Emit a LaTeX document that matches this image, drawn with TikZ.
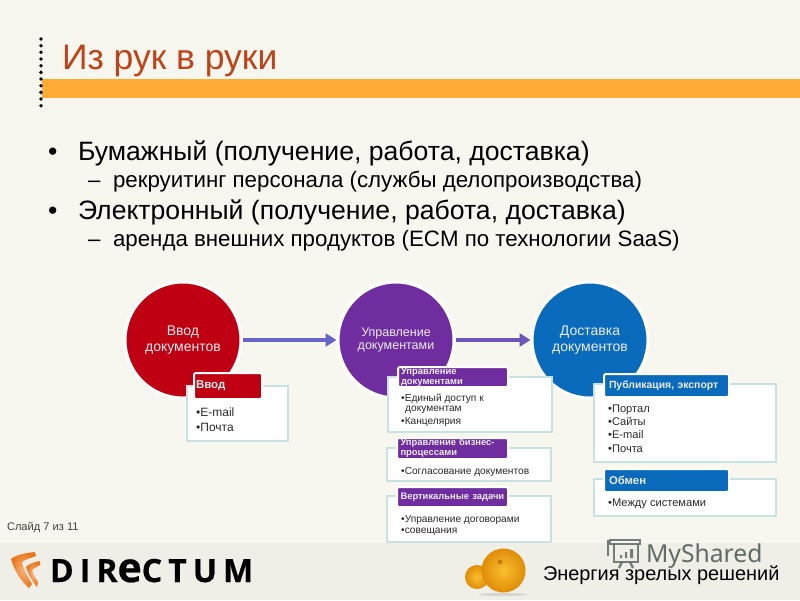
\documentclass[tikz,border=0pt]{standalone}
\usepackage{fontspec}
\setmainfont{Liberation Sans}
\newfontfamily\logofont[LetterSpace=19,BoldFeatures={FakeBold=0.5}]{Open Sans}
\newfontfamily\markfont{Noto Sans}
\usetikzlibrary{arrows.meta}
\definecolor{bgtop}{HTML}{F8F7EF}
\definecolor{bgbot}{HTML}{EFEEE7}
\definecolor{barc}{HTML}{FFAB35}
\definecolor{titlec}{HTML}{BF4318}
\definecolor{redc}{HTML}{BE0012}
\definecolor{purc}{HTML}{6F2DA0}
\definecolor{bluc}{HTML}{0A6BBC}
\definecolor{panelb}{HTML}{C8E2E2}
\definecolor{arrc}{HTML}{6566C8}
\definecolor{arrd}{HTML}{6B55B8}
\definecolor{listc}{HTML}{2A2A2A}
\definecolor{boomi}{HTML}{F9B27A}
\definecolor{boomo}{HTML}{E9781C}
\definecolor{orgi}{HTML}{F9C02E}
\definecolor{orgo}{HTML}{E08C08}
\definecolor{markc}{HTML}{5F6B66}
\tikzset{
  txt/.style={inner sep=0pt,outer sep=0pt,anchor=base west,text=black},
  bigbul/.style={txt,font=\fontsize{26.6}{30}\selectfont},
  subbul/.style={txt,font=\fontsize{22.3}{26}\selectfont},
  circ/.style={circle,draw=white,line width=3pt,minimum size=116pt,inner sep=0pt,
     text=white!92!black,align=center,font=\fontsize{14}{15.5}\selectfont},
  circm/.style={circ,font=\fontsize{12.5}{13.3}\selectfont},
  panel/.style={rectangle,draw=panelb,line width=2pt,fill=white,inner sep=0pt},
  head/.style={rectangle,rounded corners=2pt,draw=white,line width=2pt,inner sep=0pt,
     text=white!92!black,align=left,font=\fontsize{9.4}{10}\selectfont\bfseries},
  lst/.style={inner sep=0pt,anchor=north west,align=left,text=listc,
     font=\fontsize{11.1}{13.3}\selectfont},
  lsts/.style={lst,font=\fontsize{10.15}{10.6}\selectfont},
  flow/.style={line width=4pt,-{Triangle[length=11pt,width=13pt]}},
}
\begin{document}
\begin{tikzpicture}[x=1pt,y=-1pt]
\useasboundingbox (0,0) rectangle (800,600);
\fill[bgtop] (0,0) rectangle (800,543);
\fill[bgbot] (0,543) rectangle (800,600);
% header
\fill[barc] (42,79) rectangle (800,98);
\foreach \i in {0,...,10} \fill[black] (41,{39+\i*6.67}) circle (1.9);
\node[txt,text=titlec,font=\fontsize{35.5}{40}\selectfont] (title) at (62,69.5) {Из рук в руки};
% bullets
\node[bigbul] (b1m) at (48,160) {•};
\node[bigbul] (b1) at (78,160) {Бумажный (получение, работа, доставка)};
\node[subbul] (s1m) at (88,187) {–};
\node[subbul] (s1) at (113,187) {рекруитинг персонала (службы делопроизводства)};
\node[bigbul] (b2m) at (48,219) {•};
\node[bigbul] (b2) at (78,219) {Электронный (получение, работа, доставка)};
\node[subbul] (s2m) at (88,246) {–};
\node[subbul] (s2) at (113,246) {аренда внешних продуктов (ECM по технологии SaaS)};
% circles
\node[circ,fill=redc] (c1) at (183,340) {Ввод\\документов};
\node[circm,fill=purc] (c2) at (396,340) {Управление\\документами};
\node[circ,fill=bluc] (c3) at (590,340) {Доставка\\документов};
\draw[flow,draw=arrc] (c1) -- (c2);
\draw[flow,draw=arrd] (c2) -- (c3);
% panels left
\node[panel,minimum width=101pt,minimum height=55pt] (p1) at (237.5,413.5) {};
\node[head,fill=redc,minimum width=68pt,minimum height=26pt,text width=64pt,font=\fontsize{11.5}{12}\selectfont\bfseries] (h1) at (228,386) {Ввод};
\node[lst,font=\fontsize{12}{15}\selectfont] (l1) at (196,408) {•E-mail\\•Почта};
% panels middle
\node[panel,minimum width=164pt,minimum height=55pt] (p2) at (469.5,404.5) {};
\node[head,fill=purc,minimum width=110pt,minimum height=20pt,text width=104pt] (h2) at (453,377) {Управление\\документами};
\node[lsts] (l2) at (401,394) {•Единый доступ к\\[-0.5pt]\hspace*{4pt}документам\\[2.5pt]•Канцелярия};
\node[panel,minimum width=164pt,minimum height=33pt] (p3) at (469,464.5) {};
\node[head,fill=purc,minimum width=111pt,minimum height=21pt,text width=104pt] (h3) at (452.5,448.5) {Управление бизнес-\\процессами};
\node[lsts] (l3) at (401,467.5) {•Согласование документов};
\node[panel,minimum width=164pt,minimum height=46pt] (p4) at (469,519) {};
\node[head,fill=purc,minimum width=111pt,minimum height=20pt,text width=104pt] (h4) at (452.5,497) {Вертикальные задачи};
\node[lsts] (l4) at (401,515.5) {•Управление договорами\\•совещания};
% panels right
\node[panel,minimum width=182pt,minimum height=78pt] (p5) at (685,423) {};
\node[head,fill=bluc,minimum width=125pt,minimum height=23pt,text width=115pt,font=\fontsize{10.4}{11}\selectfont\bfseries] (h5) at (666.5,385.5) {Публикация, экспорт};
\node[lst] (l5) at (608,404.5) {•Портал\\•Сайты\\•E-mail\\•Почта};
\node[panel,minimum width=182pt,minimum height=37pt] (p6) at (685,497.5) {};
\node[head,fill=bluc,minimum width=125pt,minimum height=23pt,text width=115pt,font=\fontsize{11.3}{12}\selectfont\bfseries] (h6) at (666.5,480.5) {Обмен};
\node[lst] (l6) at (608,499) {•Между системами};
% footer
\node[txt,text=black!75,font=\fontsize{11.1}{12}\selectfont] (slide) at (7,530) {Слайд 7 из 11};
\shade[inner color=boomi,outer color=boomo] (35,552) .. controls (25,553) and (16,555) .. (11,559) .. controls (14,570) and (21,581) .. (29,588) -- (32,584) .. controls (27,576) and (23,568) .. (22,562) .. controls (26,559) and (31,558) .. (36,556) -- cycle;
\shade[inner color=boomi,outer color=boomo] (40,561) .. controls (34,562) and (29,564) .. (26,567) .. controls (28,574) and (32,581) .. (37,587) -- (38,582) .. controls (35,578) and (33,574) .. (32,570) .. controls (34,568) and (37,567) .. (40,565) -- cycle;
\node[txt,font=\logofont\bfseries\fontsize{32}{34}\selectfont] (logo) at (50,582) {DIR{\fontsize{41}{34}\selectfont e}CTUM};
% oranges
\fill[black!45,opacity=.25] (503,594.5) ellipse (24 and 1.5);
\shade[inner color=orgi,outer color=orgo] (477,577) circle (12);
\shade[inner color=orgi,outer color=orgo] (503.5,570.5) circle (22);
\fill[orgo!80!black,opacity=.7] (500,562) circle (2.5);
% watermark
\begin{scope}[draw=markc,line width=2.3pt,opacity=.85]
\draw (610,540) rectangle (640,544);
\draw (614,544) -- (614,562) -- (638,562) -- (638,544);
\draw (608,540) -- (608,556);
\draw (622,562) -- (619,568) (630,562) -- (633,568);
\fill[markc] (620,555) rectangle (622,558) (625,552) rectangle (627,558) (630,549) rectangle (633,558);
\end{scope}
\node[txt,text=markc,font=\markfont\fontsize{24.7}{26}\selectfont] (mark) at (646,562) {MyShared};
\node[txt,font=\fontsize{19.9}{22}\selectfont] (slog) at (543,580) {Энергия зрелых решений};
\end{tikzpicture}
\end{document}
